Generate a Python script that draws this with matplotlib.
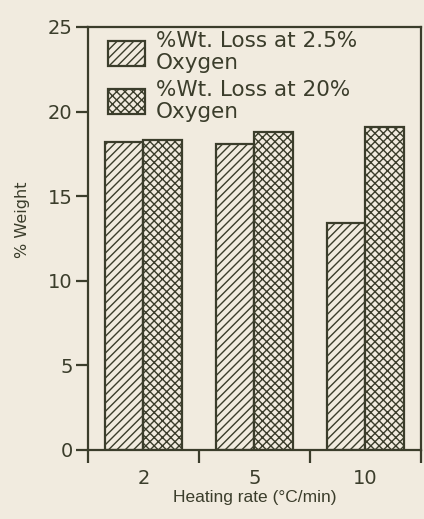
import numpy as np
import matplotlib.pyplot as plt

rates = ["2", "5", "10"]
loss_low = [18.2, 18.1, 13.4]    # %Wt. loss at 2.5% oxygen
loss_high = [18.3, 18.8, 19.1]   # %Wt. loss at 20% oxygen
yticks = [0, 5, 10, 15, 20, 25]

ink = "#3b3d2b"
paper = "#f1ebdf"

plt.rcParams["hatch.linewidth"] = 1.0
plt.rcParams["hatch.color"] = ink

fig = plt.figure(figsize=(4.24, 5.19), dpi=100, facecolor=paper)
ax = fig.add_axes([0.2075, 0.133, 0.785, 0.815], facecolor=paper)

x = np.arange(len(rates))
w = 0.345
ax.bar(x - w / 2, loss_low, w, facecolor=paper, edgecolor=ink, hatch="////",
       linewidth=1.6, label="%Wt. Loss at 2.5%\nOxygen")
ax.bar(x + w / 2, loss_high, w, facecolor=paper, edgecolor=ink, hatch="xxxx",
       linewidth=1.6, label="%Wt. Loss at 20%\nOxygen")

ax.set_xlim(-0.5, 2.5)
ax.set_ylim(0, 25)
ax.set_yticks(yticks)
ax.set_xticks([-0.5, 0.5, 1.5, 2.5])
ax.set_xticklabels([])
ax.set_xticks(x, minor=True)
ax.set_xticklabels(rates, minor=True)
ax.tick_params(axis="x", which="major", length=9, width=1.6, color=ink, direction="out")
ax.tick_params(axis="x", which="minor", length=0, pad=14, labelsize=14, labelcolor=ink)
ax.tick_params(axis="y", length=9, width=1.6, color=ink, labelsize=14, labelcolor=ink, pad=2)
for s in ax.spines.values():
    s.set_color(ink)
    s.set_linewidth(1.6)

ax.set_xlabel("Heating rate (°C/min)", fontsize=12.5, color=ink, labelpad=1,
              family="Liberation Sans")
ax.set_ylabel("% Weight", fontsize=11.5, color=ink)
ax.yaxis.set_label_coords(-0.175, 0.545)

leg = ax.legend(loc="upper left", frameon=False, fontsize=15.5, handlelength=1.75,
                handleheight=1.4, handletextpad=0.5, labelspacing=0.3,
                borderaxespad=0.2, labelcolor=ink, bbox_to_anchor=(0.02, 1.02))
for t in leg.get_texts():
    t.set_linespacing(1.12)

fig.savefig("out.png", dpi=100, facecolor=paper)
